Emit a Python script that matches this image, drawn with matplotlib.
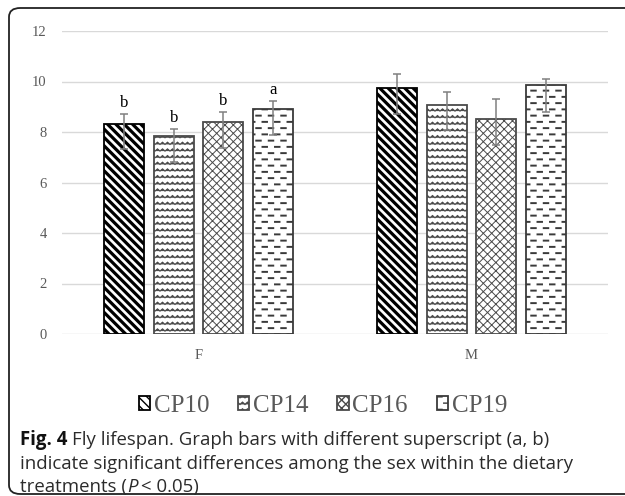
import numpy as np
import matplotlib
matplotlib.use("Agg")
import matplotlib.pyplot as plt
import matplotlib.hatch as mhatch
from matplotlib.path import Path
from matplotlib.patches import FancyBboxPatch

# ---------------- data ----------------
sexes = ["F", "M"]
treatments = ["CP10", "CP14", "CP16", "CP19"]
# mean lifespan per treatment, [F, M]
cp10 = [8.33, 9.74]
cp14 = [7.83, 9.05]
cp16 = [8.41, 8.50]
cp19 = [8.92, 9.85]
# error bars (lower, upper) per treatment, [F, M]
cp10_lo = [0.99, 1.01]
cp10_hi = [0.37, 0.56]
cp14_lo = [1.00, 0.98]
cp14_hi = [0.27, 0.53]
cp16_lo = [1.06, 1.03]
cp16_hi = [0.40, 0.79]
cp19_lo = [1.02, 1.05]
cp19_hi = [0.29, 0.25]
# superscript letters (F group only)
letters_F = ["b", "b", "b", "a"]
yticks = [0, 2, 4, 6, 8, 10, 12]

# ---------------- custom hatches ----------------
class ZigZagHatch(mhatch.HatchPatternBase):
    def __init__(self, hatch, density):
        self.on = hatch.count('z') > 0
        self.rows = 15
        self.teeth = 20
        self.num_vertices = (2 * self.teeth + 1) * self.rows if self.on else 0

    def set_vertices_and_codes(self, vertices, codes):
        n = 2 * self.teeth + 1
        xs = np.linspace(0.0, 1.0, n)
        amp = np.where(np.arange(n) % 2 == 0, -0.011, 0.011)
        for r in range(self.rows):
            y0 = (r + 0.5) / self.rows
            vertices[r * n:(r + 1) * n, 0] = xs
            vertices[r * n:(r + 1) * n, 1] = y0 + amp
            codes[r * n] = Path.MOVETO
            codes[r * n + 1:(r + 1) * n] = Path.LINETO


class DashHatch(mhatch.HatchPatternBase):
    def __init__(self, hatch, density):
        self.on = hatch.count('d') > 0
        self.rows = 16
        self.per_row = 8
        self.num_vertices = self.rows * self.per_row * 2 if self.on else 0

    def set_vertices_and_codes(self, vertices, codes):
        k = 0
        L = 0.045
        for r in range(self.rows):
            y = (r + 0.5) / self.rows
            off = 0.0 if r % 2 == 0 else 0.5 / self.per_row
            for c in range(self.per_row):
                x0 = (c / self.per_row + off) % 1.0
                vertices[k] = (x0, y)
                vertices[k + 1] = (x0 + L, y)
                codes[k] = Path.MOVETO
                codes[k + 1] = Path.LINETO
                k += 2


mhatch._hatch_types.append(ZigZagHatch)
mhatch._hatch_types.append(DashHatch)
_orig_validate = mhatch._validate_hatch_pattern
def _validate(h):
    if h is not None:
        h2 = h.replace('z', '').replace('d', '')
        return _orig_validate(h2 if h2 else None)
mhatch._validate_hatch_pattern = _validate

# ---------------- figure ----------------
serif = ["Liberation Serif", "DejaVu Serif"]
fig = plt.figure(figsize=(6.25, 4.96), dpi=100)
ax = fig.add_axes([62 / 625, 1 - 334 / 496, 546 / 625, 303 / 496])

x = np.arange(len(sexes))
width = 0.1465
step = 0.1813
series = [cp10, cp14, cp16, cp19]
los = [cp10_lo, cp14_lo, cp16_lo, cp19_lo]
his = [cp10_hi, cp14_hi, cp16_hi, cp19_hi]
hatches = ["\\\\\\\\", "z", "xxxx", "d"]
edgecols = ["#000000", "#4a4a4a", "#4a4a4a", "#3a3a3a"]
hatch_lws = [2.3, 0.85, 0.7, 1.4]

for i, (vals, lo, hi, h, ec, hlw) in enumerate(zip(series, los, his, hatches, edgecols, hatch_lws)):
    with plt.rc_context({"hatch.linewidth": hlw}):
        bars = ax.bar(x + (i - 1.5) * step, vals, width, color="white",
                      edgecolor=ec, hatch=h, linewidth=1.3, label=treatments[i],
                      zorder=2)
    for b in bars:
        if hasattr(b, "set_hatch_linewidth"):
            b.set_hatch_linewidth(hlw)
    ax.errorbar(x + (i - 1.5) * step, vals, yerr=[lo, hi], fmt="none",
                ecolor="#808080", elinewidth=1.1, capsize=3.0, capthick=1.1,
                zorder=3)
    ax.text(x[0] + (i - 1.5) * step, vals[0] + hi[0] + 0.12, letters_F[i],
            ha="center", va="bottom", fontsize=12, family=serif, color="black",
            zorder=4)

ax.set_xlim(-0.5, 1.5)
ax.set_ylim(0, 12)
ax.set_yticks(yticks)
ax.set_yticklabels([str(v) for v in yticks], family=serif, fontsize=10.5, color="#595959")
ax.set_xticks(x)
ax.set_xticklabels(sexes, family=serif, fontsize=10.5, color="#595959")
ax.tick_params(axis="both", length=0)
ax.tick_params(axis="y", pad=11)
ax.tick_params(axis="x", pad=11)
ax.grid(axis="y", color="#d9d9d9", linewidth=1.0, zorder=0)
ax.set_axisbelow(True)
for s in ax.spines.values():
    s.set_visible(False)

leg = fig.legend(loc="center", bbox_to_anchor=(323 / 625, 1 - 406 / 496), ncol=4,
                 frameon=False, prop={"family": serif, "size": 18},
                 handlelength=0.45, handleheight=0.45, handletextpad=0.15,
                 columnspacing=1.15, labelcolor="#595959")

# ---------------- caption ----------------
cap_fs = 13.4
cap_font = "Open Sans"
cap_col = "#2b2b2b"
W = fig.bbox.width
y1, y2, y3 = 1 - 440 / 496, 1 - 464 / 496, 1 - 487 / 496
t0 = fig.text(20 / 625, y1, "Fig. 4", fontsize=cap_fs, va="center",
              ha="left", family=cap_font, fontweight="bold", color="#111111")
fig.canvas.draw()
x1 = t0.get_window_extent().x1 / W
fig.text(x1 + 5 / 625, y1,
         "Fly lifespan. Graph bars with different superscript (a, b)",
         fontsize=cap_fs, va="center", ha="left", family=cap_font, color=cap_col)
fig.text(20 / 625, y2,
         "indicate significant differences among the sex within the dietary",
         fontsize=cap_fs, va="center", ha="left", family=cap_font, color=cap_col)
tl = fig.text(20 / 625, y3, "treatments (", fontsize=cap_fs, va="center",
              ha="left", family=cap_font, color=cap_col)
fig.canvas.draw()
xa = tl.get_window_extent().x1 / W
tp = fig.text(xa, y3, "P", fontsize=cap_fs, va="center", ha="left",
              family=cap_font, style="italic", color=cap_col)
fig.canvas.draw()
xb = tp.get_window_extent().x1 / W
fig.text(xb + 4 / 625, y3, "< 0.05)", fontsize=cap_fs, va="center",
         ha="left", family=cap_font, color=cap_col)

# outer rounded frame
frame = FancyBboxPatch((9 / 625, 1 - 494 / 496), 640 / 625, 486 / 496,
                       boxstyle="round,pad=0,rounding_size=0.018",
                       transform=fig.transFigure, fill=False,
                       edgecolor="#222222", linewidth=1.3, clip_on=False)
fig.add_artist(frame)

fig.savefig("out.png", dpi=100)
